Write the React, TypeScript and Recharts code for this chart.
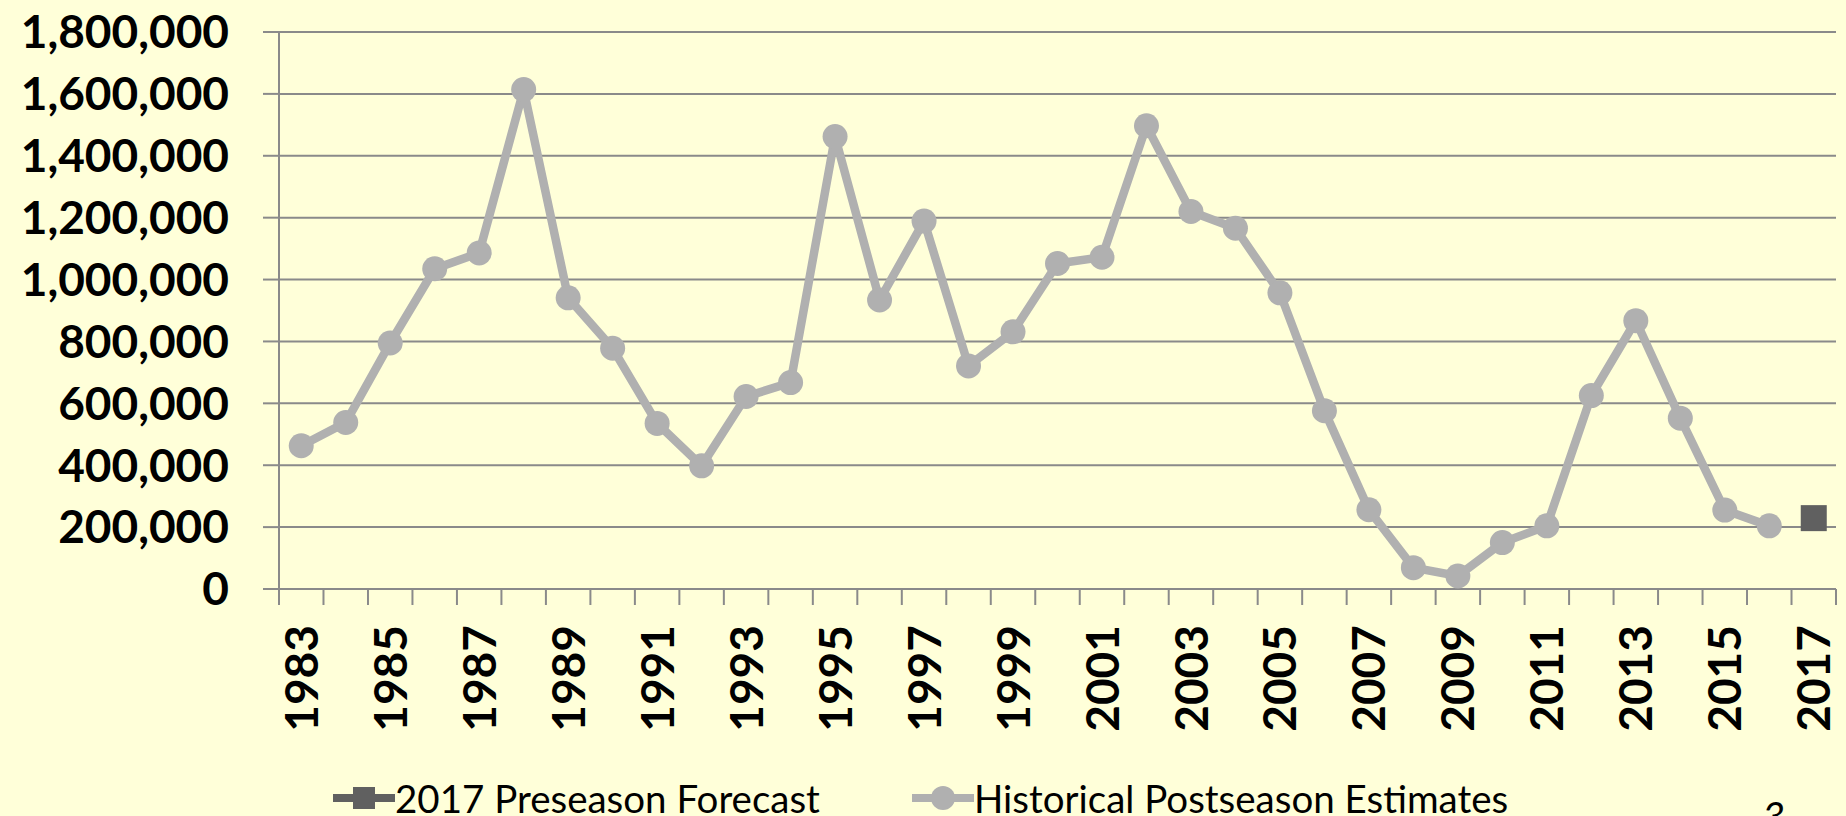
import { LineChart, Line, XAxis, YAxis, CartesianGrid, Legend } from "recharts";

const years = [
  1983, 1984, 1985, 1986, 1987, 1988, 1989, 1990, 1991, 1992, 1993, 1994,
  1995, 1996, 1997, 1998, 1999, 2000, 2001, 2002, 2003, 2004, 2005, 2006,
  2007, 2008, 2009, 2010, 2011, 2012, 2013, 2014, 2015, 2016,
];
const postseason = [
  463000, 538000, 795000, 1035000, 1086000, 1614000, 941000, 778000, 535000,
  398000, 622000, 667000, 1462000, 934000, 1189000, 721000, 831000, 1052000,
  1072000, 1497000, 1220000, 1166000, 957000, 576000, 256000, 69000, 42000,
  150000, 204000, 625000, 867000, 552000, 255000, 204000,
];
const forecastYear = 2017;
const forecastValue = 229000;
const yTicks = [0, 200000, 400000, 600000, 800000, 1000000, 1200000, 1400000, 1600000, 1800000];
const labelYears = [
  1983, 1985, 1987, 1989, 1991, 1993, 1995, 1997, 1999, 2001, 2003, 2005,
  2007, 2009, 2011, 2013, 2015, 2017,
];

const data = [
  ...years.map((year, i) => ({ year, hist: postseason[i] })),
  { year: forecastYear, forecast: forecastValue },
];
const allYears = [...years, forecastYear];
const boundaries = [...allYears.map((y) => y - 0.5), forecastYear + 0.5];

const AXIS = "#8a8a8a";
const HIST = "#b0b0b0";
const FORE = "#606060";
const FONT = "Lato, 'Open Sans', sans-serif";

function XTick(props: any) {
  const { x, y, payload } = props;
  const v = payload.value;
  if (v % 1 !== 0) {
    return <line x1={x} y1={y} x2={x} y2={y + 16} stroke={AXIS} strokeWidth={2} />;
  }
  return (
    <text
      x={x}
      y={y + 36}
      dy="0.36em"
      transform={`rotate(-90, ${x}, ${y + 36})`}
      textAnchor="end"
      fontSize={46}
      fontWeight={700}
      fill="#000"
      fontFamily={FONT}
    >
      {v}
    </text>
  );
}

function SquareDot(props: any) {
  const { cx, cy } = props;
  if (cx == null || cy == null) return <g />;
  return <rect x={cx - 13} y={cy - 13} width={26} height={26} fill={FORE} />;
}

function LegendBox() {
  const item = (label: string, color: string, square: boolean) => (
    <div style={{ display: "flex", alignItems: "center", marginRight: 92 }}>
      <svg width={62} height={30}>
        <line x1={0} y1={15} x2={62} y2={15} stroke={color} strokeWidth={8} />
        {square ? (
          <rect x={20} y={4} width={22} height={22} fill={color} />
        ) : (
          <circle cx={31} cy={15} r={12} fill={color} />
        )}
      </svg>
      <span style={{ fontFamily: FONT, fontSize: 38.5, color: "#000" }}>{label}</span>
    </div>
  );
  return (
    <div style={{ display: "flex", alignItems: "center" }}>
      {item("2017 Preseason Forecast", FORE, true)}
      {item("Historical Postseason Estimates", HIST, false)}
    </div>
  );
}

export default function App() {
  return (
    <div
      style={{
        position: "absolute",
        left: 0,
        top: 0,
        width: 1846,
        height: 816,
        background: "#ffffd9",
        overflow: "hidden",
      }}
    >
      <LineChart width={1846} height={816} data={data} margin={{ top: 32, right: 10, left: 0, bottom: 0 }}>
        <CartesianGrid vertical={false} stroke={AXIS} strokeWidth={2} />
        <XAxis
          dataKey="year"
          type="number"
          domain={[1982.5, 2017.5]}
          ticks={[...boundaries, ...labelYears]}
          interval={0}
          tickLine={false}
          tickSize={0}
          tickMargin={0}
          axisLine={{ stroke: AXIS, strokeWidth: 2 }}
          tick={<XTick />}
          height={227}
        />
        <YAxis
          domain={[0, 1800000]}
          ticks={yTicks}
          interval={0}
          width={279}
          tickSize={16}
          tickMargin={34}
          tickLine={{ stroke: AXIS, strokeWidth: 2 }}
          axisLine={{ stroke: AXIS, strokeWidth: 2 }}
          tickFormatter={(v: number) => v.toLocaleString("en-US")}
          tick={{ fontSize: 46, fontWeight: 700, fill: "#000", fontFamily: FONT }}
        />
        <Legend
          layout="horizontal"
          verticalAlign="middle"
          align="center"
          content={<LegendBox />}
          wrapperStyle={{ position: "absolute", top: 775, left: 333, width: 1400 }}
        />
        <Line
          dataKey="forecast"
          stroke={FORE}
          strokeWidth={8}
          dot={<SquareDot />}
          isAnimationActive={false}
          legendType="square"
        />
        <Line
          dataKey="hist"
          stroke={HIST}
          strokeWidth={8.5}
          dot={{ r: 12.5, fill: HIST, stroke: "none" }}
          activeDot={false}
          isAnimationActive={false}
        />
      </LineChart>
      <div
        style={{
          position: "absolute",
          left: 1762,
          top: 792,
          fontFamily: FONT,
          fontStyle: "italic",
          fontSize: 40,
          color: "#000",
        }}
      >
        3
      </div>
    </div>
  );
}
